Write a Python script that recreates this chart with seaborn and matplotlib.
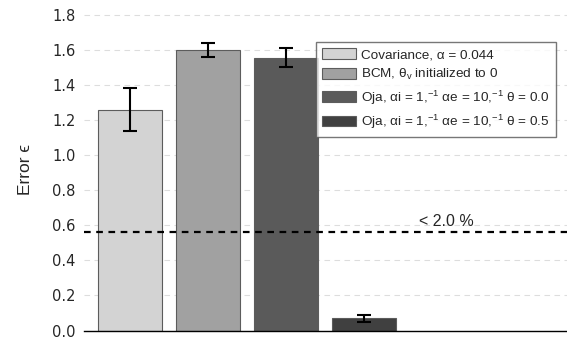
import seaborn as sns
import matplotlib.pyplot as plt
import pandas as pd

methods = [
    'Covariance, α = 0.044',
    'BCM, θ$_v$ initialized to 0',
    'Oja, αi = 1,$^{-1}$ αe = 10,$^{-1}$ θ = 0.0',
    'Oja, αi = 1,$^{-1}$ αe = 10,$^{-1}$ θ = 0.5',
]
errors = [1.26, 1.60, 1.555, 0.07]
err_lo = [0.12, 0.04, 0.05, 0.02]
err_hi = [0.12, 0.04, 0.055, 0.02]
colors = ['#d3d3d3', '#a1a1a1', '#5a5a5a', '#404040']
threshold = 0.56

df = pd.DataFrame({'method': methods, 'error': errors})

sns.set_theme(style='white')
plt.rcParams['font.family'] = ['DejaVu Sans']
plt.rcParams['mathtext.fontset'] = 'custom'
plt.rcParams['mathtext.rm'] = 'Liberation Sans'
plt.rcParams['mathtext.it'] = 'Liberation Sans'

fig = plt.figure(figsize=(5.67, 3.38), dpi=100)
ax = fig.add_axes([0.148, 0.022, 0.852, 0.955])

sns.barplot(data=df, x='method', y='error', hue='method', palette=colors,
            width=0.82, errorbar=None, edgecolor='#5c5c5c', linewidth=0.8,
            legend=True, ax=ax)
ax.errorbar(range(len(errors)), errors, yerr=[err_lo, err_hi], fmt='none',
            ecolor='black', elinewidth=1.5, capsize=5, capthick=1.5)

ax.axhline(threshold, color='black', ls=(0, (3, 2.5)), lw=1.6, zorder=5)
ax.text(4.05, threshold + 0.02, '< 2.0 %', ha='center', va='bottom',
        fontsize=11.5, family='Liberation Sans')

ax.set_xlim(-0.59, 5.6)
ax.set_ylim(0, 1.84)
ax.set_yticks([0.0, 0.2, 0.4, 0.6, 0.8, 1.0, 1.2, 1.4, 1.6, 1.8])
ax.set_yticklabels([f'{v:.1f}' for v in ax.get_yticks()], fontsize=10.5)
ax.set_xticks([])
ax.set_xlabel('')
ax.set_ylabel('Error ϵ', fontsize=12.5, labelpad=14, family='Liberation Sans')
ax.yaxis.grid(True, color='#dddddd', ls=(0, (5, 4)), lw=0.8)
ax.set_axisbelow(True)
for s in ['left', 'right', 'top']:
    ax.spines[s].set_visible(False)
ax.spines['bottom'].set_color('black')
ax.spines['bottom'].set_linewidth(1.0)
ax.tick_params(axis='y', length=0, pad=6)

leg = ax.legend(loc='upper right', bbox_to_anchor=(0.977, 0.894),
                prop={'family': 'Liberation Sans', 'size': 9.7},
                frameon=True, fancybox=False, edgecolor='#555555',
                handlelength=2.5, handleheight=0.85, labelspacing=0.45,
                handletextpad=0.4, borderpad=0.45, borderaxespad=0)
leg.get_frame().set_linewidth(1.0)

fig.savefig('out.png', dpi=100)
